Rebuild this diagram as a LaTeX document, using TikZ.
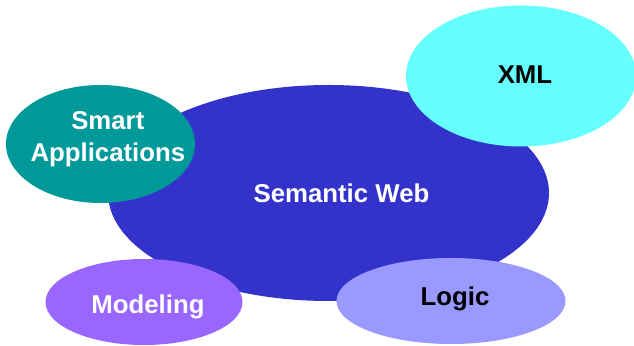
\documentclass[tikz,border=0pt]{standalone}
\usepackage{fontspec}
\setmainfont{Liberation Sans}
\definecolor{webblue}{RGB}{51, 51, 204}
\definecolor{xmlcyan}{RGB}{102, 255, 255}
\definecolor{appteal}{RGB}{0, 153, 153}
\definecolor{modviolet}{RGB}{153, 102, 255}
\definecolor{logiclav}{RGB}{153, 153, 255}
\usetikzlibrary{shapes.geometric, positioning}

\begin{document}
\begin{tikzpicture}[
  x=0.03cm, y=-0.03cm,
  blob/.style={ellipse, draw=none, inner sep=0pt},
  lbl/.style={font=\bfseries\fontsize{22}{27.3}\selectfont, align=center, inner sep=0pt}
]
  \useasboundingbox (0, 0) rectangle (634, 346);

  % Semantic Web
  \node[blob, fill=webblue, minimum width=13.23cm, minimum height=6.48cm,
    label={[lbl, text=white, xshift=0.39cm]center:Semantic Web}] (web) at (328.5, 193) {};

  % XML
  \node[blob, fill=xmlcyan, minimum width=6.9cm, minimum height=4.23cm,
    label={[lbl, text=black, xshift=0.12cm, yshift=0.04cm]center:XML}] (xml) at (521, 76) {};

  % Smart Applications
  \node[blob, fill=appteal, minimum width=5.67cm, minimum height=3.54cm,
    label={[lbl, text=white, xshift=0.22cm, yshift=0.14cm]center:Smart\\Applications}] (apps) at (100.5, 144) {};

  % Modeling
  \node[blob, fill=modviolet, minimum width=5.91cm, minimum height=2.58cm,
    label={[lbl, text=white, xshift=0.12cm, yshift=-0.15cm]center:Modeling}] (model) at (144, 302) {};

  % Logic
  \node[blob, fill=logiclav, minimum width=6.87cm, minimum height=2.58cm,
    label={[lbl, text=black, xshift=0.12cm, yshift=0.05cm]center:Logic}] (logic) at (451, 301) {};
\end{tikzpicture}
\end{document}
